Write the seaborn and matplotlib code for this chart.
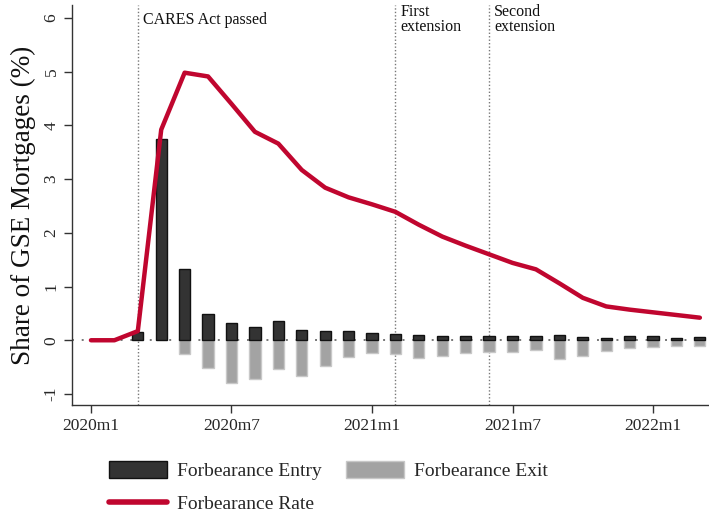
import numpy as np
import pandas as pd
import matplotlib
matplotlib.use("Agg")
import matplotlib.pyplot as plt
import seaborn as sns
from matplotlib.patches import Patch
from matplotlib.lines import Line2D

sns.set_theme(style="white")
plt.rcParams['font.family'] = ['Liberation Serif', 'DejaVu Serif']

# ---- data (month index 0 = 2020m1) ----
months = list(range(27))  # 2020m1 .. 2022m3
rate = [0.0, 0.0, 0.17, 3.92, 4.98, 4.91, 4.40, 3.88, 3.66, 3.17, 2.84, 2.66, 2.53,
        2.39, 2.15, 1.93, 1.76, 1.60, 1.44, 1.32, 1.06, 0.79, 0.63, 0.57, 0.52, 0.47, 0.42]
entry_months = list(range(2, 27))
entry = [0.15, 3.75, 1.33, 0.48, 0.32, 0.25, 0.35, 0.20, 0.17, 0.18, 0.13, 0.12,
         0.09, 0.08, 0.075, 0.075, 0.07, 0.07, 0.09, 0.06, 0.05, 0.075, 0.075, 0.045, 0.055]
exit_months = list(range(4, 27))
exits = [-0.25, -0.52, -0.80, -0.73, -0.54, -0.67, -0.47, -0.31, -0.23, -0.25,
         -0.33, -0.29, -0.24, -0.22, -0.22, -0.18, -0.35, -0.29, -0.20, -0.14, -0.12, -0.10, -0.10]
xtick_pos = [0, 6, 12, 18, 24]
xtick_labels = ["2020m1", "2020m7", "2021m1", "2021m7", "2022m1"]
ytick_vals = [-1, 0, 1, 2, 3, 4, 5, 6]
events = [2, 13, 17]
event_labels = ["CARES Act passed", "First\nextension", "Second\nextension"]

W, H = 709, 515
fig = plt.figure(figsize=(W / 100, H / 100), dpi=100)
ax = fig.add_axes([72 / W, (H - 405) / H, (W - 72) / W, 400 / H])

RED = "#c0062f"
df_rate = pd.DataFrame({"m": months, "v": rate})
df_entry = pd.DataFrame({"m": entry_months, "v": entry})
df_exit = pd.DataFrame({"m": exit_months, "v": exits})

# zero line and event lines
ax.axhline(0, color="#777777", lw=1.4, ls=(0, (1, 4)), zorder=1)
for e, lab in zip(events, event_labels):
    ax.axvline(e, color="#777777", lw=1.0, ls=(0, (1, 1.5)), zorder=1)
    ax.text(e + 0.22, 5.97, lab, ha="left", va="center", fontsize=11.5, color="#111111",
            linespacing=0.95)

sns.barplot(data=df_exit, x="m", y="v", native_scale=True, width=0.48, color="#a3a3a3",
            edgecolor="#c8c8c8", linewidth=1.0, saturation=1, errorbar=None, ax=ax, zorder=2)
sns.barplot(data=df_entry, x="m", y="v", native_scale=True, width=0.48, color="#333333",
            edgecolor="#111111", linewidth=1.0, saturation=1, errorbar=None, ax=ax, zorder=3)
sns.lineplot(data=df_rate, x="m", y="v", color=RED, linewidth=3.2, ax=ax, zorder=4)

ax.set_xlim(-0.81, 26.39)
ax.set_ylim(-1.205, 6.24)
ax.set_xticks(xtick_pos)
ax.set_xticklabels(xtick_labels, fontsize=12.5)
ax.set_yticks(ytick_vals)
ax.set_yticklabels([str(v) for v in ytick_vals], fontsize=12.5, rotation=90, va="center")
ax.tick_params(axis="both", which="major", direction="out", length=6, width=1,
               color="#333333", bottom=True, left=True, pad=3)
ax.set_xlabel("")
ax.set_ylabel("Share of GSE Mortgages (%)", fontsize=19.5, color="#111111")
ax.yaxis.set_label_coords(-0.056, 0.5)
for s in ["top", "right"]:
    ax.spines[s].set_visible(False)
for s in ["left", "bottom"]:
    ax.spines[s].set_color("#333333")
    ax.spines[s].set_linewidth(1.0)

h_entry = Patch(facecolor="#333333", edgecolor="#111111", label="Forbearance Entry")
h_exit = Patch(facecolor="#a3a3a3", edgecolor="#c8c8c8", label="Forbearance Exit")
h_rate = Line2D([], [], color=RED, lw=4, label="Forbearance Rate")
fig.legend(handles=[h_entry, h_rate, h_exit], loc="upper left",
           bbox_to_anchor=(109 / W, 1 - 461 / H),
           ncol=2, frameon=False, fontsize=14, handlelength=3.0, handleheight=0.95,
           handletextpad=0.5, columnspacing=1.25, labelspacing=0.72, borderpad=0,
           borderaxespad=0)

fig.savefig("out.png", dpi=100)
